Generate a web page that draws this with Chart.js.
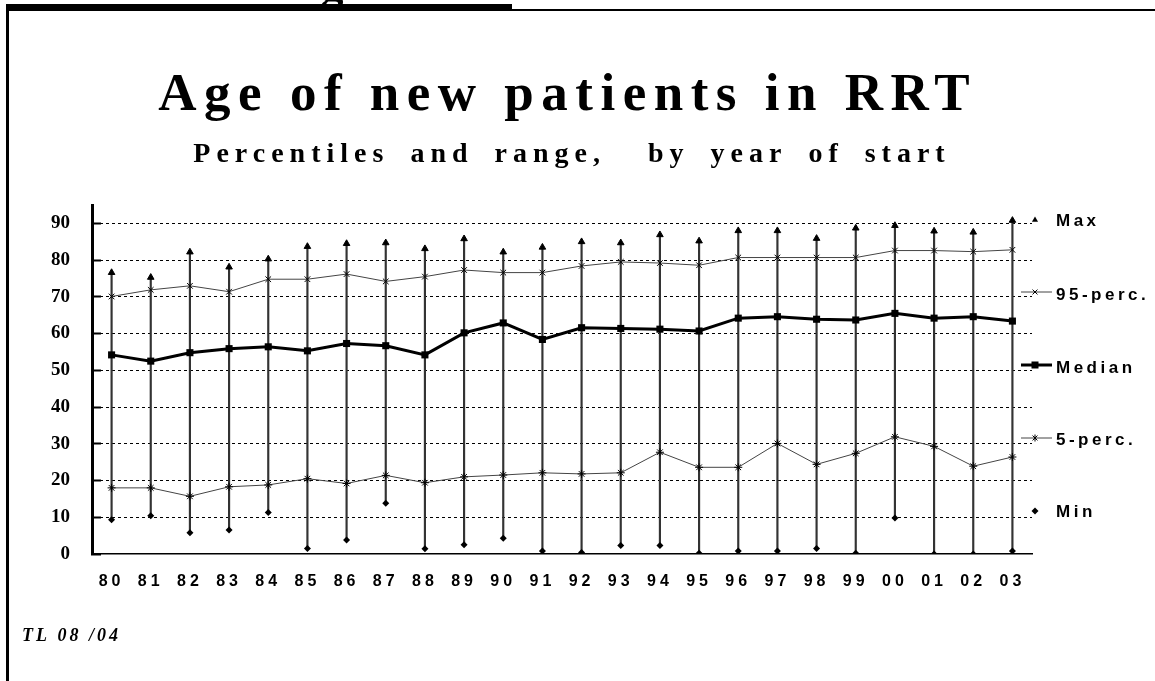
<!DOCTYPE html>
<html>
<head>
<meta charset="utf-8">
<title>Age of new patients in RRT</title>
<script src="https://cdn.jsdelivr.net/npm/chart.js@4.4.1/dist/chart.umd.min.js"></script>
<style>
  html, body { margin: 0; padding: 0; background: #fff; }
  #chart { display: block; }
</style>
</head>
<body>
<canvas id="chart" width="1155" height="681"></canvas>
<script>
// year of start (two digit, as on the slide)
const years = ['80', '81', '82', '83', '84', '85', '86', '87', '88', '89', '90', '91',
               '92', '93', '94', '95', '96', '97', '98', '99', '00', '01', '02', '03'];

const maxAge = [76.6, 75.3, 82.2, 78.1, 80.3, 83.7, 84.5, 84.7, 83.1, 85.8, 82.2, 83.5,
                85.0, 84.7, 86.9, 85.2, 88.0, 88.0, 85.9, 88.7, 89.4, 87.9, 87.6, 90.8];
const perc95 = [70.1, 71.9, 73.0, 71.4, 74.8, 74.8, 76.2, 74.2, 75.5, 77.3, 76.6, 76.6,
                78.4, 79.5, 79.2, 78.6, 80.7, 80.7, 80.7, 80.7, 82.6, 82.6, 82.3, 82.8];
const median = [54.2, 52.5, 54.8, 55.9, 56.4, 55.3, 57.3, 56.7, 54.2, 60.2, 62.9, 58.4,
                61.6, 61.4, 61.2, 60.7, 64.2, 64.6, 63.9, 63.7, 65.5, 64.2, 64.6, 63.4];
const perc5 = [18.0, 18.0, 15.7, 18.3, 18.8, 20.5, 19.2, 21.4, 19.4, 21.0, 21.5, 22.1,
               21.8, 22.1, 27.7, 23.6, 23.6, 30.1, 24.4, 27.4, 31.9, 29.3, 23.9, 26.4];
const minAge = [9.3, 10.4, 5.8, 6.5, 11.3, 1.5, 3.8, 13.8, 1.4, 2.5, 4.3, 0.8,
                0.4, 2.3, 2.3, 0.2, 0.8, 0.8, 1.5, 0.2, 9.8, 0.0, 0.0, 0.8];

const yTicks = [0, 10, 20, 30, 40, 50, 60, 70, 80, 90];

const serif = '"Liberation Serif", "Times New Roman", serif';
const sans = '"Liberation Sans", Arial, sans-serif';

// write text with letter spacing (old slide look)
function spacedText(ctx, text, x, y, font, spacing, align, wordSpacing) {
    ctx.font = font;
    ctx.letterSpacing = spacing + 'px';
    ctx.wordSpacing = (wordSpacing || 0) + 'px';
    ctx.textAlign = 'left';
    let left = x;
    if (align === 'center') {
        const w = ctx.measureText(text).width - spacing;
        left = x - w / 2;
    }
    ctx.fillText(text, left, y);
    ctx.letterSpacing = '0px';
    ctx.wordSpacing = '0px';
}

function marker(ctx, style, x, y, r) {
    ctx.beginPath();
    if (style === 'triangle') {
        ctx.moveTo(x, y - r);
        ctx.lineTo(x + r * 0.87, y + r * 0.5);
        ctx.lineTo(x - r * 0.87, y + r * 0.5);
        ctx.closePath();
        ctx.fill();
    } else if (style === 'diamond') {
        ctx.moveTo(x, y - r);
        ctx.lineTo(x + r, y);
        ctx.lineTo(x, y + r);
        ctx.lineTo(x - r, y);
        ctx.closePath();
        ctx.fill();
    } else if (style === 'rect') {
        ctx.fillRect(x - r, y - r, 2 * r, 2 * r);
    } else {
        const d = r * 0.7;
        ctx.moveTo(x - d, y - d); ctx.lineTo(x + d, y + d);
        ctx.moveTo(x + d, y - d); ctx.lineTo(x - d, y + d);
        if (style === 'star') {
            ctx.moveTo(x, y - r); ctx.lineTo(x, y + r);
        }
        ctx.stroke();
    }
}

// legend entries, drawn at the right like the original slide
const legendItems = [
    { text: 'Max', y: 220, ty: 221, style: 'triangle', line: false },
    { text: '95-perc.', y: 292, ty: 295, style: 'cross', line: true, width: 1 },
    { text: 'Median', y: 365, ty: 368, style: 'rect', line: true, width: 3 },
    { text: '5-perc.', y: 438, ty: 440, style: 'star', line: true, width: 1 },
    { text: 'Min', y: 511, ty: 512, style: 'diamond', line: false }
];

const slideDecor = {
    id: 'slideDecor',
    beforeDraw(chart) {
        // right aligned y labels stay unspaced
        chart.ctx.letterSpacing = '0px';
    },
    afterDatasetsDraw(chart) {
        // x axis labels (ticks z: 1) are drawn after this
        chart.ctx.letterSpacing = '4px';
    },
    afterDraw(chart) {
        const ctx = chart.ctx;
        ctx.letterSpacing = '0px';
        ctx.save();
        ctx.fillStyle = '#000';
        ctx.strokeStyle = '#000';
        ctx.textBaseline = 'alphabetic';

        // bit of a letter from the slide above
        ctx.font = 'bold 46px ' + serif;
        ctx.textAlign = 'center';
        ctx.fillText('g', 332, 0);

        // frame
        ctx.fillRect(6, 4, 506, 7);
        ctx.fillRect(512, 9, 643, 2);
        ctx.fillRect(6, 4, 3, 677);

        // titles
        spacedText(ctx, 'Age of new patients in RRT', 564, 110, 'bold 53px ' + serif, 7.5, 'center');
        spacedText(ctx, 'Percentiles and range,  by year of start', 569, 162, 'bold 28px ' + serif, 6, 'center', 8);
        spacedText(ctx, 'TL 08 /04', 22, 641, 'italic bold 18px ' + serif, 3, 'left');

        // legend
        legendItems.forEach(item => {
            ctx.strokeStyle = '#000';
            ctx.fillStyle = '#000';
            if (item.line) {
                ctx.lineWidth = item.width;
                ctx.strokeStyle = item.width > 1 ? '#000' : '#444';
                ctx.beginPath();
                ctx.moveTo(1021, item.y);
                ctx.lineTo(1052, item.y);
                ctx.stroke();
            }
            ctx.lineWidth = 1;
            ctx.strokeStyle = '#000';
            marker(ctx, item.style, 1035, item.y, 3.5);
            ctx.textBaseline = 'middle';
            spacedText(ctx, item.text, 1056, item.ty, 'bold 17px ' + sans, 3.5, 'left');
        });
        ctx.restore();
    }
};

const ctx = document.getElementById('chart').getContext('2d');
Chart.defaults.color = '#000';

const chart = new Chart(ctx, {
    data: {
        labels: years,
        datasets: [
            {
                type: 'line', label: 'Max', data: maxAge, showLine: false,
                pointStyle: 'triangle', pointRadius: 3.8, pointBackgroundColor: '#000',
                pointBorderColor: '#000', pointBorderWidth: 1, order: 1
            },
            {
                type: 'line', label: '95-perc.', data: perc95, borderColor: '#444', borderWidth: 1,
                pointStyle: 'crossRot', pointRadius: 4, pointBorderColor: '#000', pointBorderWidth: 1,
                tension: 0, order: 2
            },
            {
                type: 'line', label: 'Median', data: median, borderColor: '#000', borderWidth: 3,
                pointStyle: 'rect', pointRadius: 5, pointBackgroundColor: '#000', pointBorderColor: '#000',
                pointBorderWidth: 0, tension: 0, order: 3
            },
            {
                type: 'line', label: '5-perc.', data: perc5, borderColor: '#444', borderWidth: 1,
                pointStyle: 'star', pointRadius: 4, pointBorderColor: '#000', pointBorderWidth: 1,
                tension: 0, order: 4
            },
            {
                type: 'line', label: 'Min', data: minAge, showLine: false,
                pointStyle: 'rectRot', pointRadius: 3.5, pointBackgroundColor: '#000',
                pointBorderColor: '#000', pointBorderWidth: 0, order: 5
            },
            {
                // high-low lines from min to max
                type: 'bar', label: 'Range', data: minAge.map((m, i) => [m, maxAge[i]]),
                backgroundColor: '#333', borderWidth: 0, barThickness: 1.5, order: 10
            }
        ]
    },
    options: {
        responsive: false,
        animation: false,
        layout: { padding: { left: 0, right: 123, top: 205, bottom: 87 } },
        plugins: {
            legend: { display: false },
            tooltip: { enabled: false },
            title: { display: false }
        },
        scales: {
            x: {
                type: 'category',
                offset: true,
                afterFit: s => { s.height = 40; },
                grid: { display: false, drawTicks: false },
                border: { color: '#000', width: 1.5 },
                ticks: { z: 1, font: { family: sans, size: 16, weight: 'bold' }, padding: 18, maxRotation: 0 }
            },
            y: {
                min: 0,
                max: 95,
                afterFit: s => { s.width = 92; },
                border: { color: '#000', width: 3, dash: [3, 3] },
                grid: {
                    color: c => (c.tick && yTicks.includes(c.tick.value) && c.tick.value > 0) ? '#000' : 'rgba(0,0,0,0)',
                    borderDash: [3, 3],
                    lineWidth: 1,
                    tickColor: '#000',
                    tickWidth: 2,
                    tickLength: -9,
                    tickBorderDash: []
                },
                ticks: {
                    stepSize: 5,
                    padding: 31,
                    font: { family: serif, size: 19, weight: 'bold' },
                    callback: v => yTicks.includes(v) ? String(v) : ''
                }
            }
        }
    },
    plugins: [slideDecor]
});
</script>
</body>
</html>
